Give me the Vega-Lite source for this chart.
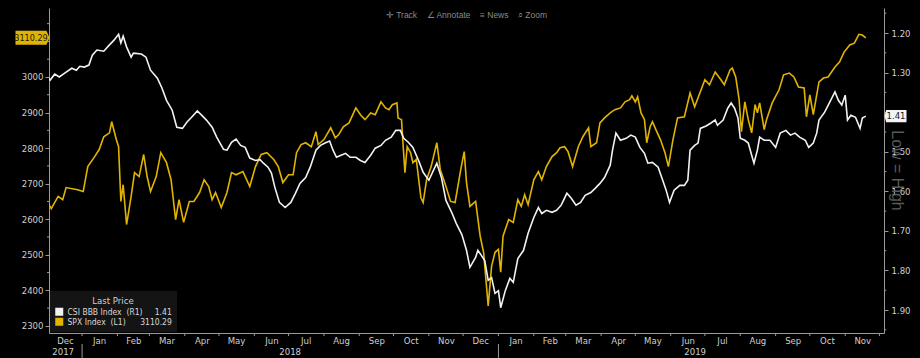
{
  "$schema": "https://vega.github.io/schema/vega-lite/v6.json",
  "width": 835,
  "height": 325,
  "autosize": {"type": "none"},
  "padding": {"left": 49, "top": 8, "right": 36, "bottom": 25},
  "background": "#000000",
  "title": {"text": "✛ Track\u00a0\u00a0\u00a0\u00a0∠ Annotate\u00a0\u00a0\u00a0\u00a0≡ News\u00a0\u00a0\u00a0\u00a0⌕ Zoom", "fontSize": 8.5, "color": "#8a8a8a", "offset": -11, "anchor": "middle", "fontWeight": "normal", "font": "Liberation Sans"},
  "config": {
    "view": {"stroke": null},
    "font": "Liberation Sans Narrow, DejaVu Sans Condensed, Liberation Sans, sans-serif",
    "axis": {"domainColor": "#9a9a9a", "tickColor": "#9a9a9a", "labelColor": "#CFCFCF", "labelFontSize": 9.5, "grid": false, "domainWidth": 1, "tickWidth": 1, "labelOverlap": false, "labelFont": "Liberation Sans Narrow, DejaVu Sans Condensed, Liberation Sans, sans-serif"},
    "legend": {"labelFont": "Liberation Sans Narrow, DejaVu Sans Condensed, Liberation Sans, sans-serif", "titleFont": "Liberation Sans Narrow, DejaVu Sans Condensed, Liberation Sans, sans-serif"}
  },
  "datasets": {
    "spx": [
      {"date":"2017-12-02","value":2647},{"date":"2017-12-05","value":2630},{"date":"2017-12-11","value":2664},{"date":"2017-12-15","value":2655},{"date":"2017-12-18","value":2689},{"date":"2017-12-28","value":2683},
      {"date":"2018-01-02","value":2678},{"date":"2018-01-06","value":2748},{"date":"2018-01-12","value":2776},{"date":"2018-01-16","value":2796},{"date":"2018-01-20","value":2832},{"date":"2018-01-25","value":2843},{"date":"2018-01-27","value":2874},{"date":"2018-01-31","value":2824},
      {"date":"2018-02-02","value":2804},{"date":"2018-02-04","value":2650},{"date":"2018-02-06","value":2697},{"date":"2018-02-09","value":2585},{"date":"2018-02-13","value":2664},{"date":"2018-02-16","value":2731},{"date":"2018-02-20","value":2720},{"date":"2018-02-24","value":2782},{"date":"2018-02-27","value":2720},
      {"date":"2018-03-02","value":2678},{"date":"2018-03-07","value":2720},{"date":"2018-03-11","value":2787},{"date":"2018-03-16","value":2759},{"date":"2018-03-20","value":2711},{"date":"2018-03-24","value":2599},{"date":"2018-03-27","value":2655},{"date":"2018-03-31","value":2591},
      {"date":"2018-04-05","value":2650},{"date":"2018-04-09","value":2650},{"date":"2018-04-14","value":2675},{"date":"2018-04-18","value":2711},{"date":"2018-04-22","value":2692},{"date":"2018-04-25","value":2655},{"date":"2018-04-28","value":2675},
      {"date":"2018-05-03","value":2633},{"date":"2018-05-08","value":2675},{"date":"2018-05-12","value":2731},{"date":"2018-05-16","value":2725},{"date":"2018-05-22","value":2734},{"date":"2018-05-28","value":2692},
      {"date":"2018-06-02","value":2748},{"date":"2018-06-07","value":2782},{"date":"2018-06-12","value":2787},{"date":"2018-06-18","value":2768},{"date":"2018-06-22","value":2748},{"date":"2018-06-26","value":2703},
      {"date":"2018-07-01","value":2725},{"date":"2018-07-05","value":2725},{"date":"2018-07-08","value":2787},{"date":"2018-07-12","value":2810},{"date":"2018-07-16","value":2815},{"date":"2018-07-21","value":2804},{"date":"2018-07-25","value":2846},{"date":"2018-07-27","value":2810},
      {"date":"2018-08-01","value":2824},{"date":"2018-08-07","value":2857},{"date":"2018-08-11","value":2829},{"date":"2018-08-14","value":2838},{"date":"2018-08-18","value":2860},{"date":"2018-08-23","value":2871},{"date":"2018-08-29","value":2913},
      {"date":"2018-09-02","value":2894},{"date":"2018-09-06","value":2880},{"date":"2018-09-11","value":2899},{"date":"2018-09-15","value":2894},{"date":"2018-09-20","value":2930},{"date":"2018-09-24","value":2913},{"date":"2018-09-27","value":2908},{"date":"2018-09-30","value":2922},
      {"date":"2018-10-04","value":2927},{"date":"2018-10-05","value":2885},{"date":"2018-10-08","value":2880},{"date":"2018-10-11","value":2731},{"date":"2018-10-13","value":2804},{"date":"2018-10-16","value":2787},{"date":"2018-10-18","value":2759},{"date":"2018-10-21","value":2768},{"date":"2018-10-25","value":2661},{"date":"2018-10-27","value":2647},{"date":"2018-10-30","value":2711},
      {"date":"2018-11-03","value":2748},{"date":"2018-11-08","value":2815},{"date":"2018-11-11","value":2740},{"date":"2018-11-16","value":2692},{"date":"2018-11-20","value":2650},{"date":"2018-11-24","value":2647},{"date":"2018-11-29","value":2740},
      {"date":"2018-12-02","value":2790},{"date":"2018-12-04","value":2703},{"date":"2018-12-07","value":2636},{"date":"2018-12-12","value":2650},{"date":"2018-12-16","value":2552},{"date":"2018-12-19","value":2507},{"date":"2018-12-21","value":2431},{"date":"2018-12-23","value":2356},{"date":"2018-12-26","value":2468},{"date":"2018-12-29","value":2507},
      {"date":"2019-01-01","value":2515},{"date":"2019-01-03","value":2451},{"date":"2019-01-05","value":2552},{"date":"2019-01-10","value":2599},{"date":"2019-01-14","value":2591},{"date":"2019-01-18","value":2655},{"date":"2019-01-21","value":2636},{"date":"2019-01-24","value":2669},{"date":"2019-01-27","value":2641},
      {"date":"2019-02-01","value":2711},{"date":"2019-02-05","value":2734},{"date":"2019-02-08","value":2711},{"date":"2019-02-12","value":2748},{"date":"2019-02-17","value":2776},{"date":"2019-02-21","value":2787},{"date":"2019-02-24","value":2801},{"date":"2019-02-28","value":2804},
      {"date":"2019-03-03","value":2790},{"date":"2019-03-07","value":2748},{"date":"2019-03-12","value":2804},{"date":"2019-03-16","value":2832},{"date":"2019-03-21","value":2857},{"date":"2019-03-23","value":2804},{"date":"2019-03-28","value":2815},{"date":"2019-03-31","value":2871},
      {"date":"2019-04-04","value":2885},{"date":"2019-04-09","value":2899},{"date":"2019-04-13","value":2908},{"date":"2019-04-18","value":2913},{"date":"2019-04-22","value":2930},{"date":"2019-04-26","value":2936},{"date":"2019-04-28","value":2947},
      {"date":"2019-05-01","value":2930},{"date":"2019-05-03","value":2944},{"date":"2019-05-06","value":2899},{"date":"2019-05-09","value":2880},{"date":"2019-05-11","value":2815},{"date":"2019-05-14","value":2860},{"date":"2019-05-16","value":2874},{"date":"2019-05-19","value":2852},{"date":"2019-05-23","value":2824},{"date":"2019-05-27","value":2787},{"date":"2019-05-30","value":2748},
      {"date":"2019-06-03","value":2824},{"date":"2019-06-07","value":2885},{"date":"2019-06-13","value":2888},{"date":"2019-06-18","value":2955},{"date":"2019-06-22","value":2916},
      {"date":"2019-07-01","value":2992},{"date":"2019-07-05","value":2978},{"date":"2019-07-10","value":3014},{"date":"2019-07-15","value":2992},{"date":"2019-07-18","value":2978},{"date":"2019-07-23","value":3020},{"date":"2019-07-25","value":3025},{"date":"2019-07-28","value":3000},{"date":"2019-07-31","value":2936},
      {"date":"2019-08-02","value":2846},{"date":"2019-08-05","value":2930},{"date":"2019-08-08","value":2880},{"date":"2019-08-11","value":2843},{"date":"2019-08-14","value":2922},{"date":"2019-08-16","value":2899},{"date":"2019-08-18","value":2927},{"date":"2019-08-22","value":2852},{"date":"2019-08-24","value":2880},{"date":"2019-08-29","value":2927},
      {"date":"2019-09-04","value":2964},{"date":"2019-09-08","value":3006},{"date":"2019-09-13","value":3011},{"date":"2019-09-17","value":3000},{"date":"2019-09-21","value":2972},{"date":"2019-09-26","value":2969},{"date":"2019-09-28","value":2888},
      {"date":"2019-10-01","value":2950},{"date":"2019-10-04","value":2894},{"date":"2019-10-09","value":2986},{"date":"2019-10-13","value":2997},{"date":"2019-10-17","value":3000},{"date":"2019-10-23","value":3028},{"date":"2019-10-27","value":3042},{"date":"2019-10-31","value":3070},
      {"date":"2019-11-05","value":3090},{"date":"2019-11-09","value":3095},{"date":"2019-11-13","value":3120},{"date":"2019-11-16","value":3118},{"date":"2019-11-19","value":3110.29}
    ],
    "csi": [
      {"date":"2017-12-02","value":1.311},{"date":"2017-12-04","value":1.319},{"date":"2017-12-08","value":1.304},{"date":"2017-12-12","value":1.311},{"date":"2017-12-18","value":1.299},{"date":"2017-12-23","value":1.289},{"date":"2017-12-27","value":1.294},{"date":"2017-12-30","value":1.284},
      {"date":"2018-01-03","value":1.286},{"date":"2018-01-07","value":1.281},{"date":"2018-01-10","value":1.256},{"date":"2018-01-14","value":1.243},{"date":"2018-01-20","value":1.246},{"date":"2018-01-25","value":1.23},{"date":"2018-01-29","value":1.218},
      {"date":"2018-02-02","value":1.203},{"date":"2018-02-04","value":1.225},{"date":"2018-02-06","value":1.208},{"date":"2018-02-09","value":1.235},{"date":"2018-02-13","value":1.261},{"date":"2018-02-15","value":1.251},{"date":"2018-02-22","value":1.253},{"date":"2018-02-26","value":1.261},
      {"date":"2018-03-02","value":1.294},{"date":"2018-03-08","value":1.314},{"date":"2018-03-12","value":1.339},{"date":"2018-03-16","value":1.37},{"date":"2018-03-21","value":1.395},{"date":"2018-03-25","value":1.438},{"date":"2018-03-30","value":1.441},
      {"date":"2018-04-03","value":1.425},{"date":"2018-04-07","value":1.413},{"date":"2018-04-12","value":1.397},{"date":"2018-04-16","value":1.408},{"date":"2018-04-20","value":1.42},{"date":"2018-04-25","value":1.438},{"date":"2018-04-29","value":1.463},
      {"date":"2018-05-05","value":1.494},{"date":"2018-05-08","value":1.496},{"date":"2018-05-12","value":1.476},{"date":"2018-05-16","value":1.468},{"date":"2018-05-20","value":1.484},{"date":"2018-05-24","value":1.489},{"date":"2018-05-28","value":1.516},
      {"date":"2018-06-02","value":1.522},{"date":"2018-06-06","value":1.52},{"date":"2018-06-09","value":1.529},{"date":"2018-06-13","value":1.539},{"date":"2018-06-16","value":1.554},{"date":"2018-06-19","value":1.59},{"date":"2018-06-23","value":1.628},{"date":"2018-06-28","value":1.641},
      {"date":"2018-07-03","value":1.628},{"date":"2018-07-07","value":1.605},{"date":"2018-07-11","value":1.58},{"date":"2018-07-16","value":1.565},{"date":"2018-07-20","value":1.539},{"date":"2018-07-25","value":1.496},{"date":"2018-07-29","value":1.484},
      {"date":"2018-08-02","value":1.478},{"date":"2018-08-06","value":1.473},{"date":"2018-08-09","value":1.496},{"date":"2018-08-12","value":1.514},{"date":"2018-08-16","value":1.509},{"date":"2018-08-20","value":1.504},{"date":"2018-08-24","value":1.514},{"date":"2018-08-29","value":1.514},
      {"date":"2018-09-02","value":1.522},{"date":"2018-09-06","value":1.527},{"date":"2018-09-11","value":1.509},{"date":"2018-09-15","value":1.491},{"date":"2018-09-20","value":1.484},{"date":"2018-09-24","value":1.471},{"date":"2018-09-29","value":1.463},
      {"date":"2018-10-03","value":1.446},{"date":"2018-10-07","value":1.446},{"date":"2018-10-10","value":1.466},{"date":"2018-10-14","value":1.476},{"date":"2018-10-18","value":1.489},{"date":"2018-10-23","value":1.522},{"date":"2018-10-27","value":1.552},
      {"date":"2018-11-01","value":1.572},{"date":"2018-11-05","value":1.547},{"date":"2018-11-08","value":1.529},{"date":"2018-11-12","value":1.565},{"date":"2018-11-16","value":1.623},{"date":"2018-11-21","value":1.653},{"date":"2018-11-25","value":1.681},{"date":"2018-11-30","value":1.71},
      {"date":"2018-12-04","value":1.749},{"date":"2018-12-07","value":1.792},{"date":"2018-12-12","value":1.767},{"date":"2018-12-14","value":1.749},{"date":"2018-12-17","value":1.762},{"date":"2018-12-20","value":1.775},{"date":"2018-12-23","value":1.825},{"date":"2018-12-26","value":1.818},{"date":"2018-12-29","value":1.858},
      {"date":"2019-01-01","value":1.851},{"date":"2019-01-03","value":1.894},{"date":"2019-01-07","value":1.851},{"date":"2019-01-11","value":1.82},{"date":"2019-01-14","value":1.83},{"date":"2019-01-18","value":1.77},{"date":"2019-01-23","value":1.749},{"date":"2019-01-27","value":1.706},
      {"date":"2019-02-01","value":1.666},{"date":"2019-02-05","value":1.641},{"date":"2019-02-08","value":1.656},{"date":"2019-02-12","value":1.648},{"date":"2019-02-17","value":1.653},{"date":"2019-02-21","value":1.648},{"date":"2019-02-25","value":1.635},
      {"date":"2019-03-02","value":1.605},{"date":"2019-03-06","value":1.618},{"date":"2019-03-10","value":1.635},{"date":"2019-03-14","value":1.628},{"date":"2019-03-18","value":1.61},{"date":"2019-03-23","value":1.603},{"date":"2019-03-27","value":1.592},{"date":"2019-03-31","value":1.58},
      {"date":"2019-04-04","value":1.565},{"date":"2019-04-09","value":1.534},{"date":"2019-04-11","value":1.496},{"date":"2019-04-14","value":1.453},{"date":"2019-04-18","value":1.471},{"date":"2019-04-23","value":1.466},{"date":"2019-04-27","value":1.458},
      {"date":"2019-05-01","value":1.463},{"date":"2019-05-05","value":1.489},{"date":"2019-05-09","value":1.504},{"date":"2019-05-12","value":1.529},{"date":"2019-05-16","value":1.527},{"date":"2019-05-21","value":1.539},{"date":"2019-05-25","value":1.572},{"date":"2019-05-28","value":1.597},{"date":"2019-05-31","value":1.628},
      {"date":"2019-06-04","value":1.597},{"date":"2019-06-09","value":1.585},{"date":"2019-06-13","value":1.585},{"date":"2019-06-16","value":1.572},{"date":"2019-06-18","value":1.496},{"date":"2019-06-22","value":1.484},{"date":"2019-06-25","value":1.478},{"date":"2019-06-27","value":1.441},
      {"date":"2019-07-02","value":1.435},{"date":"2019-07-06","value":1.428},{"date":"2019-07-10","value":1.42},{"date":"2019-07-12","value":1.433},{"date":"2019-07-17","value":1.42},{"date":"2019-07-21","value":1.39},{"date":"2019-07-24","value":1.377},{"date":"2019-07-27","value":1.39},{"date":"2019-07-30","value":1.415},
      {"date":"2019-08-01","value":1.466},{"date":"2019-08-05","value":1.471},{"date":"2019-08-08","value":1.478},{"date":"2019-08-11","value":1.509},{"date":"2019-08-13","value":1.529},{"date":"2019-08-16","value":1.496},{"date":"2019-08-18","value":1.463},{"date":"2019-08-22","value":1.471},{"date":"2019-08-27","value":1.471},
      {"date":"2019-09-01","value":1.489},{"date":"2019-09-05","value":1.453},{"date":"2019-09-10","value":1.446},{"date":"2019-09-14","value":1.458},{"date":"2019-09-18","value":1.453},{"date":"2019-09-22","value":1.463},{"date":"2019-09-27","value":1.471},{"date":"2019-09-30","value":1.489},
      {"date":"2019-10-04","value":1.478},{"date":"2019-10-07","value":1.453},{"date":"2019-10-09","value":1.42},{"date":"2019-10-14","value":1.4},{"date":"2019-10-18","value":1.377},{"date":"2019-10-23","value":1.349},{"date":"2019-10-26","value":1.37},{"date":"2019-10-29","value":1.382},
      {"date":"2019-11-01","value":1.357},{"date":"2019-11-03","value":1.42},{"date":"2019-11-06","value":1.408},{"date":"2019-11-10","value":1.413},{"date":"2019-11-14","value":1.441},{"date":"2019-11-16","value":1.415},{"date":"2019-11-19","value":1.41}
    ],
    "spxtag": [{"date":"2017-12-03","value":3110.29,"label":"3110.29"}],
    "csitag": [{"date":"2019-12-05","value":1.41,"label":"1.41"}],
    "monthticks": [
      {"date":"2018-01-01","top":2280,"bottom":2271.5},{"date":"2018-02-01","top":2280,"bottom":2271.5},{"date":"2018-03-01","top":2280,"bottom":2271.5},{"date":"2018-04-01","top":2280,"bottom":2271.5},{"date":"2018-05-01","top":2280,"bottom":2271.5},{"date":"2018-06-01","top":2280,"bottom":2271.5},{"date":"2018-07-01","top":2280,"bottom":2271.5},{"date":"2018-08-01","top":2280,"bottom":2271.5},{"date":"2018-09-01","top":2280,"bottom":2271.5},{"date":"2018-10-01","top":2280,"bottom":2271.5},{"date":"2018-11-01","top":2280,"bottom":2271.5},{"date":"2018-12-01","top":2280,"bottom":2271.5},
      {"date":"2019-01-01","top":2280,"bottom":2271.5},{"date":"2019-02-01","top":2280,"bottom":2271.5},{"date":"2019-03-01","top":2280,"bottom":2271.5},{"date":"2019-04-01","top":2280,"bottom":2271.5},{"date":"2019-05-01","top":2280,"bottom":2271.5},{"date":"2019-06-01","top":2280,"bottom":2271.5},{"date":"2019-07-01","top":2280,"bottom":2271.5},{"date":"2019-08-01","top":2280,"bottom":2271.5},{"date":"2019-09-01","top":2280,"bottom":2271.5},{"date":"2019-10-01","top":2280,"bottom":2271.5},{"date":"2019-11-01","top":2280,"bottom":2271.5},{"date":"2019-12-01","top":2280,"bottom":2271.5},
      {"date":"2018-01-01","top":2249,"bottom":2210},{"date":"2019-01-01","top":2249,"bottom":2210}
    ],
    "leftminor": [
      {"start":"2017-12-03T00:00:00","end":"2017-12-01T06:00:00","value":2350},{"start":"2017-12-03T00:00:00","end":"2017-12-01T06:00:00","value":2450},{"start":"2017-12-03T00:00:00","end":"2017-12-01T06:00:00","value":2550},{"start":"2017-12-03T00:00:00","end":"2017-12-01T06:00:00","value":2650},{"start":"2017-12-03T00:00:00","end":"2017-12-01T06:00:00","value":2750},{"start":"2017-12-03T00:00:00","end":"2017-12-01T06:00:00","value":2850},{"start":"2017-12-03T00:00:00","end":"2017-12-01T06:00:00","value":2950},{"start":"2017-12-03T00:00:00","end":"2017-12-01T06:00:00","value":3050},{"start":"2017-12-03T00:00:00","end":"2017-12-01T06:00:00","value":3150}
    ],
    "rightminor": [
      {"start":"2019-12-05T00:00:00","end":"2019-12-07T00:00:00","value":1.15},{"start":"2019-12-05T00:00:00","end":"2019-12-07T00:00:00","value":1.25},{"start":"2019-12-05T00:00:00","end":"2019-12-07T00:00:00","value":1.35},{"start":"2019-12-05T00:00:00","end":"2019-12-07T00:00:00","value":1.45},{"start":"2019-12-05T00:00:00","end":"2019-12-07T00:00:00","value":1.55},{"start":"2019-12-05T00:00:00","end":"2019-12-07T00:00:00","value":1.65},{"start":"2019-12-05T00:00:00","end":"2019-12-07T00:00:00","value":1.75},{"start":"2019-12-05T00:00:00","end":"2019-12-07T00:00:00","value":1.85},{"start":"2019-12-05T00:00:00","end":"2019-12-07T00:00:00","value":1.95}
    ]
  },
  "layer": [
    {
      "layer": [
        {
          "data": {"name": "spx"},
          "mark": {"type": "line", "strokeWidth": 1.6, "clip": true},
          "encoding": {
            "x": {"field": "date", "type": "temporal",
              "scale": {"domain": [{"year": 2017, "month": 12, "date": 3}, {"year": 2019, "month": 12, "date": 5}]},
              "axis": {"orient": "bottom", "title": null, "tickCount": 40,
                "values": [{"year":2017,"month":12,"date":17},{"year":2018,"month":1,"date":16},{"year":2018,"month":2,"date":15},{"year":2018,"month":3,"date":16},{"year":2018,"month":4,"date":16},{"year":2018,"month":5,"date":16},{"year":2018,"month":6,"date":16},{"year":2018,"month":7,"date":16},{"year":2018,"month":8,"date":16},{"year":2018,"month":9,"date":16},{"year":2018,"month":10,"date":16},{"year":2018,"month":11,"date":16},{"year":2018,"month":12,"date":16},{"year":2019,"month":1,"date":16},{"year":2019,"month":2,"date":15},{"year":2019,"month":3,"date":16},{"year":2019,"month":4,"date":16},{"year":2019,"month":5,"date":16},{"year":2019,"month":6,"date":16},{"year":2019,"month":7,"date":16},{"year":2019,"month":8,"date":16},{"year":2019,"month":9,"date":16},{"year":2019,"month":10,"date":16},{"year":2019,"month":11,"date":16}],
                "format": "%b",
                "ticks": false, "labelPadding": 2, "labelFlush": false, "labelOverlap": false, "labelBound": false
              }},
            "y": {"field": "value", "type": "quantitative",
              "scale": {"domain": [2280, 3194], "nice": false, "zero": false},
              "axis": {"orient": "left", "title": null, "tickCount": 20,
                "values": [2300,2400,2500,2600,2700,2800,2900,3000,3100],
                "format": "d",
                "labelExpr": "datum.value == 3100 ? '' : datum.label",
                "labelPadding": 2, "tickSize": 4, "labelOverlap": false
              }},
            "color": {"datum": "SPX Index  (L1)", "type": "nominal",
              "scale": {"domain": ["CSI BBB Index  (R1)", "SPX Index  (L1)"], "range": ["#F2F2F2", "#E1B400"]},
              "legend": {"orient": "bottom-left", "offset": 1, "title": "Last Price",
                "titleColor": "#CFCFCF", "titleFontSize": 9.5, "titleFontWeight": "normal", "titleAnchor": "middle", "titlePadding": 2,
                "labelColor": "#D8D8D8", "labelFontSize": 8.5,
                "symbolType": "square", "symbolSize": 64, "symbolStrokeWidth": 0,
                "fillColor": "#141414", "padding": 5, "rowPadding": 1,
                "labelExpr": "datum.value == 'SPX Index  (L1)' ? 'SPX Index\u00a0\u00a0(L1)\u00a0\u00a0\u00a0\u00a0\u00a0\u00a03110.29' : 'CSI BBB Index\u00a0\u00a0(R1)\u00a0\u00a0\u00a0\u00a0\u00a01.41'",
                "encode": {"symbols": {"update": {"fill": {"scale": "color", "field": "value"}, "fillOpacity": {"value": 1}}}}
              }}
          }
        },
        {
          "data": {"name": "monthticks"},
          "mark": {"type": "rule", "color": "#9a9a9a", "strokeWidth": 1},
          "encoding": {"x": {"field": "date", "type": "temporal"}, "y": {"field": "top", "type": "quantitative"}, "y2": {"field": "bottom"}}
        },
        {
          "data": {"name": "leftminor"},
          "mark": {"type": "rule", "color": "#9a9a9a", "strokeWidth": 1},
          "encoding": {"x": {"field": "start", "type": "temporal"}, "x2": {"field": "end"}, "y": {"field": "value", "type": "quantitative"}}
        },
        {
          "data": {"name": "spxtag"},
          "mark": {"type": "point", "shape": "M-1,-0.41L0.82,-0.41L1,0L0.82,0.41L-1,0.41Z", "size": 1156, "filled": true, "opacity": 1, "strokeWidth": 0, "color": "#E1B400", "xOffset": -16.5},
          "encoding": {"x": {"field": "date", "type": "temporal"}, "y": {"field": "value", "type": "quantitative"}}
        },
        {
          "data": {"name": "spxtag"},
          "mark": {"type": "text", "dx": -18, "fontSize": 9, "color": "#1a1a1a", "font": "Liberation Sans Narrow, DejaVu Sans Condensed, Liberation Sans, sans-serif"},
          "encoding": {"x": {"field": "date", "type": "temporal"}, "y": {"field": "value", "type": "quantitative"}, "text": {"field": "label"}}
        }
      ]
    },
    {
      "layer": [
        {
          "data": {"name": "csi"},
          "mark": {"type": "line", "strokeWidth": 1.6, "clip": true},
          "encoding": {
            "x": {"field": "date", "type": "temporal",
              "axis": {"orient": "bottom", "title": null, "tickCount": 10,
                "values": [{"year":2017,"month":12,"date":15},{"year":2018,"month":7,"date":2},{"year":2019,"month":6,"date":22}],
                "format": "%Y",
                "ticks": false, "domain": false, "labelPadding": 13, "labelFlush": false, "labelOverlap": false, "labelBound": false
              }},
            "y": {"field": "value", "type": "quantitative",
              "scale": {"domain": [1.1368, 1.958], "nice": false, "zero": false, "reverse": true},
              "axis": {"orient": "right", "title": "Low = High", "tickCount": 20,
                "values": [1.2,1.3,1.4,1.5,1.6,1.7,1.8,1.9],
                "format": ".2f",
                "labelExpr": "datum.value > 1.39 && datum.value < 1.41 ? '' : datum.label",
                "labelPadding": 3, "tickSize": 4, "labelOverlap": false,
                "titleAngle": 90, "titleX": 12, "titleY": 162, "titleAlign": "center", "titleBaseline": "middle",
                "titleColor": "#5a5a5a", "titleFontSize": 16, "titleFontWeight": "normal", "titleFont": "Liberation Sans"
              }},
            "color": {"datum": "CSI BBB Index  (R1)", "type": "nominal"}
          }
        },
        {
          "data": {"name": "rightminor"},
          "mark": {"type": "rule", "color": "#9a9a9a", "strokeWidth": 1},
          "encoding": {"x": {"field": "start", "type": "temporal"}, "x2": {"field": "end"}, "y": {"field": "value", "type": "quantitative"}}
        },
        {
          "data": {"name": "csitag"},
          "mark": {"type": "point", "shape": "M-1,0L-0.85,-0.55L1,-0.55L1,0.55L-0.85,0.55Z", "size": 484, "filled": true, "opacity": 1, "strokeWidth": 0, "color": "#F4F4F4", "xOffset": 11.5},
          "encoding": {"x": {"field": "date", "type": "temporal"}, "y": {"field": "value", "type": "quantitative"}}
        },
        {
          "data": {"name": "csitag"},
          "mark": {"type": "text", "dx": 12, "fontSize": 9.5, "color": "#1a1a1a", "font": "Liberation Sans Narrow, DejaVu Sans Condensed, Liberation Sans, sans-serif"},
          "encoding": {"x": {"field": "date", "type": "temporal"}, "y": {"field": "value", "type": "quantitative"}, "text": {"field": "label"}}
        }
      ]
    }
  ],
  "resolve": {"scale": {"y": "independent"}, "axis": {"x": "independent"}}
}
